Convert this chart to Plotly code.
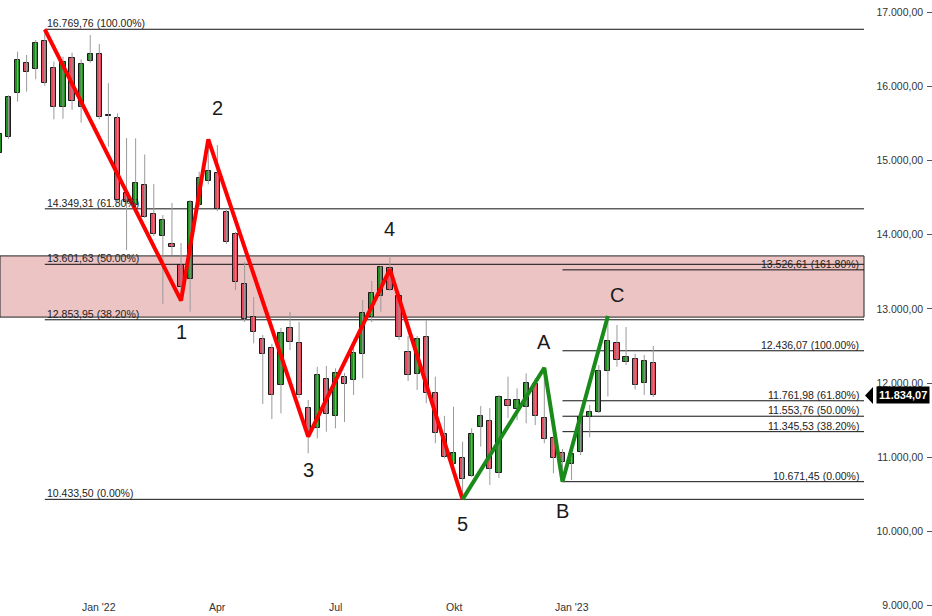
import pandas as pd
import plotly.graph_objects as go

# ---------------- data (weekly candles, first week 2021-10-18) ----------------
FIRST_WEEK = "2021-10-18"
OPEN = [15098, 15322, 15907, 16311, 16230, 16616, 16244, 15718, 16387, 15726, 16346,
        16432, 15595, 15570, 14559, 14401, 14671, 14284, 13983, 13871, 13592, 13400,
        14401, 14720, 14828, 14303, 14006, 13332, 12885, 12592, 12469, 11975, 12739,
        12537, 11661, 11391, 12051, 11557, 12078, 12042, 12393, 12895, 13174, 13548,
        13174, 12415, 12123, 12626, 11863, 11314, 10906, 10986, 10748, 11405, 11489,
        10784, 11772, 11647, 11674, 11984, 11526, 11256, 11062, 10906, 11076, 11539,
        11607, 12163, 12537, 12281, 12321, 11998, 12278]
HIGH = [15420, 15880, 16468, 16423, 16625, 16769.76, 16333, 16400, 16454, 16365, 16693,
        16571, 16042, 15637, 15304, 15300, 15082, 14684, 14266, 14428, 13889, 14468,
        14850, 15287, 15210, 14334, 14037, 13633, 13161, 12649, 12527, 12743, 12959,
        12824, 11773, 12221, 12231, 12200, 12137, 12514, 13120, 13377, 13579, 13714,
        13201, 12635, 12635, 12851, 12087, 11557, 11682, 11210, 11391, 11691, 11664,
        11840, 12087, 11930, 12132, 12069, 12204, 11301, 11112, 11121, 11593, 11705,
        12244, 12905, 12784, 12757, 12397, 12379, 12500]
LOW = [15060, 15290, 15794, 15928, 16096, 16009, 15556, 15564, 15682, 15510, 16319,
       15556, 15187, 14446, 13794, 14378, 14226, 13983, 13067, 13727, 13111, 12963,
       14374, 14680, 14320, 13875, 13255, 12824, 12537, 11719, 11516, 11593, 12446,
       11799, 11054, 11256, 11345, 11391, 11476, 11840, 12065, 12824, 12963, 13242,
       12582, 12029, 11907, 11728, 11189, 10986, 10896, 10433.50, 10734, 11143, 10627,
       10721, 11530, 11503, 11458, 11435, 11189, 10784, 10671.45, 10694, 11031, 11270,
       11593, 11820, 12221, 12244, 11914, 11840, 11813]
CLOSE = [15354, 15853, 16352, 16198, 16581, 16042, 15718, 16325, 15803, 16298, 16432,
         15591, 15610, 14468, 14446, 14694, 14243, 14010, 14199, 13839, 13300, 14437,
         14761, 14855, 14343, 13898, 13359, 12864, 12693, 12388, 11840, 12680, 12554,
         11840, 11341, 12109, 11584, 12132, 11984, 12402, 12952, 13211, 13561, 13255,
         12618, 12109, 12591, 11863, 11324, 11000, 11054, 10708, 11310, 11557, 10838,
         11817, 11691, 11772, 11998, 11561, 11243, 10986, 10941, 11040, 11547, 11615,
         12167, 12572, 12312, 12356, 11972, 12298, 11834.07]

ZZ_RED_DATES = ["2021-11-22", "2022-03-07", "2022-03-28", "2022-06-13", "2022-08-15", "2022-10-10"]
ZZ_RED_VALUES = [16769.76, 13111, 15287, 11278, 13534, 10433.50]
ZZ_RED_LABELS = ["", "1", "2", "3", "4", "5"]
ZZ_GREEN_DATES = ["2022-10-10", "2022-12-12", "2022-12-26", "2023-01-30"]
ZZ_GREEN_VALUES = [10433.50, 12208, 10671.45, 12905]
ZZ_GREEN_LABELS = ["", "A", "B", "C"]

FIB_LEFT_START = "2021-11-22"
FIB_LEFT_LEVELS = [16769.76, 14349.31, 13601.63, 12853.95, 10433.50]
FIB_LEFT_PCT = ["100.00%", "61.80%", "50.00%", "38.20%", "0.00%"]
FIB_RIGHT_START = "2022-12-26"
FIB_RIGHT_LEVELS = [13526.61, 12436.07, 11761.98, 11553.76, 11345.53, 10671.45]
FIB_RIGHT_PCT = ["161.80%", "100.00%", "61.80%", "50.00%", "38.20%", "0.00%"]

ZONE = [12890, 13715]
LAST_PRICE = 11834.07

Y_TICKS = [9000, 10000, 11000, 12000, 13000, 14000, 15000, 16000, 17000]
X_TICK_DATES = ["2022-01-03", "2022-04-04", "2022-07-04", "2022-10-03", "2023-01-02"]
X_TICK_TEXT = ["Jan '22", "Apr", "Jul", "Okt", "Jan '23"]

# ---------------- layout helpers ----------------
W, H = 932, 616
K0 = pd.Timestamp("2022-01-03")
PX_WEEK = 9.082
K0_PX = 99.3
def px_to_date(px):
    return K0 + pd.Timedelta(weeks=(px - K0_PX) / PX_WEEK)
X_RANGE = [px_to_date(0), px_to_date(W)]
LINE_END = px_to_date(864)
Y_RANGE = [8860.8, 17164.5]
UNITS_PER_PX = (Y_RANGE[1] - Y_RANGE[0]) / H

def de(v):
    s = f"{v:,.2f}"
    return s.replace(",", "X").replace(".", ",").replace("X", ".")

dates = pd.date_range(FIRST_WEEK, periods=len(OPEN), freq="7D")
GREEN = "#1f8f1f"
RED = "#e8495c"
FONT = "Liberation Sans, Arial, sans-serif"

fig = go.Figure()

# wicks
wx, wy = [], []
for d, h, l in zip(dates, HIGH, LOW):
    wx += [d, d, None]
    wy += [l, h, None]
fig.add_trace(go.Scatter(x=wx, y=wy, mode="lines",
                         line=dict(color="#9a9a9a", width=1), hoverinfo="skip",
                         showlegend=False))

# bodies
base = [min(o, c) for o, c in zip(OPEN, CLOSE)]
height = [abs(c - o) for o, c in zip(OPEN, CLOSE)]
colors = [GREEN if c >= o else RED for o, c in zip(OPEN, CLOSE)]
fig.add_trace(go.Bar(x=dates, y=height, base=base,
                     width=4.0 * 86400000,
                     marker=dict(color=colors, line=dict(color="#1a1a1a", width=1)),
                     showlegend=False, hoverinfo="skip"))

# zigzags
fig.add_trace(go.Scatter(x=ZZ_RED_DATES, y=ZZ_RED_VALUES, mode="lines",
                         line=dict(color="#ff0000", width=4), showlegend=False,
                         hoverinfo="skip"))
fig.add_trace(go.Scatter(x=ZZ_GREEN_DATES, y=ZZ_GREEN_VALUES, mode="lines",
                         line=dict(color="#1a8a1a", width=4), showlegend=False,
                         hoverinfo="skip"))

shapes = []
annotations = []

# zone
shapes.append(dict(type="rect", xref="x", yref="y", x0=X_RANGE[0], x1=LINE_END,
                   y0=ZONE[0], y1=ZONE[1], fillcolor="rgb(236,196,196)",
                   line=dict(color="#222", width=1), layer="below"))

# fib lines
for lvl, pct in zip(FIB_LEFT_LEVELS, FIB_LEFT_PCT):
    shapes.append(dict(type="line", xref="x", yref="y", x0=FIB_LEFT_START, x1=LINE_END,
                       y0=lvl, y1=lvl, line=dict(color="#111", width=1), layer="below"))
    annotations.append(dict(x=FIB_LEFT_START, y=lvl, xref="x", yref="y",
                            text=f"{de(lvl)} ({pct})", showarrow=False,
                            xanchor="left", yanchor="bottom", yshift=-2,
                            font=dict(family=FONT, size=10.5, color="#222")))
for lvl, pct in zip(FIB_RIGHT_LEVELS, FIB_RIGHT_PCT):
    shapes.append(dict(type="line", xref="x", yref="y", x0=FIB_RIGHT_START, x1=LINE_END,
                       y0=lvl, y1=lvl, line=dict(color="#111", width=1), layer="below"))
    annotations.append(dict(x=LINE_END, y=lvl, xref="x", yref="y",
                            text=f"{de(lvl)} ({pct})", showarrow=False,
                            xanchor="right", yanchor="bottom", yshift=-2, xshift=-3,
                            font=dict(family=FONT, size=10.5, color="#222")))

# wave labels
RED_SHIFTS = [None, (0, -31), (9, 31), (0, -33), (0, 40), (0, -25)]
GREEN_SHIFTS = [None, (0, 26), (0, -29), (9, 21)]
for d, v, lab, sh in zip(ZZ_RED_DATES + ZZ_GREEN_DATES, ZZ_RED_VALUES + ZZ_GREEN_VALUES,
                         ZZ_RED_LABELS + ZZ_GREEN_LABELS, RED_SHIFTS + GREEN_SHIFTS):
    if not lab:
        continue
    annotations.append(dict(x=d, y=v, xref="x", yref="y", text=lab, showarrow=False,
                            xshift=sh[0], yshift=sh[1],
                            font=dict(family=FONT, size=20, color="#1a1a1a")))

# x-axis labels (drawn inside the bottom edge of the plot)
for d, t in zip(X_TICK_DATES, X_TICK_TEXT):
    annotations.append(dict(x=d, y=0, xref="x", yref="paper", text=t, showarrow=False,
                            yanchor="bottom", yshift=1,
                            font=dict(family=FONT, size=10.5, color="#333")))

# last price marker
annotations.append(dict(x=1, y=LAST_PRICE, xref="paper", yref="y", text=f"<b>{de(LAST_PRICE)}</b>",
                        showarrow=False, xanchor="right", xshift=-2, bgcolor="#000",
                        borderpad=2, font=dict(family=FONT, size=11, color="#fff")))
tip_x = 865 / W
box_x = 873 / W
half = 8.5 * UNITS_PER_PX
shapes.append(dict(type="path", xref="paper", yref="y",
                   path=f"M {tip_x},{LAST_PRICE} L {box_x},{LAST_PRICE + half} "
                        f"L {box_x},{LAST_PRICE - half} Z",
                   fillcolor="#000", line=dict(width=0)))

fig.update_layout(
    width=W, height=H,
    margin=dict(l=0, r=0, t=0, b=0, autoexpand=False),
    paper_bgcolor="white", plot_bgcolor="white",
    separators=",.",
    shapes=shapes, annotations=annotations,
    showlegend=False, bargap=0,
    font=dict(family=FONT, size=11, color="#333"),
    xaxis=dict(type="date", range=X_RANGE, showgrid=False, zeroline=False, showline=False,
               showticklabels=False, ticks=""),
    yaxis=dict(side="right", range=Y_RANGE, showgrid=False, zeroline=False, showline=False,
               tickvals=Y_TICKS, tickformat=",.2f", ticks="inside", ticklen=5,
               tickcolor="#555", ticklabelposition="inside", ticklabelstandoff=3,
               tickfont=dict(family=FONT, size=10.5, color="#333")),
)

fig.write_html("out.html", config={"displayModeBar": False},
               post_script="document.body.style.margin='0';document.body.style.overflow='hidden';")
